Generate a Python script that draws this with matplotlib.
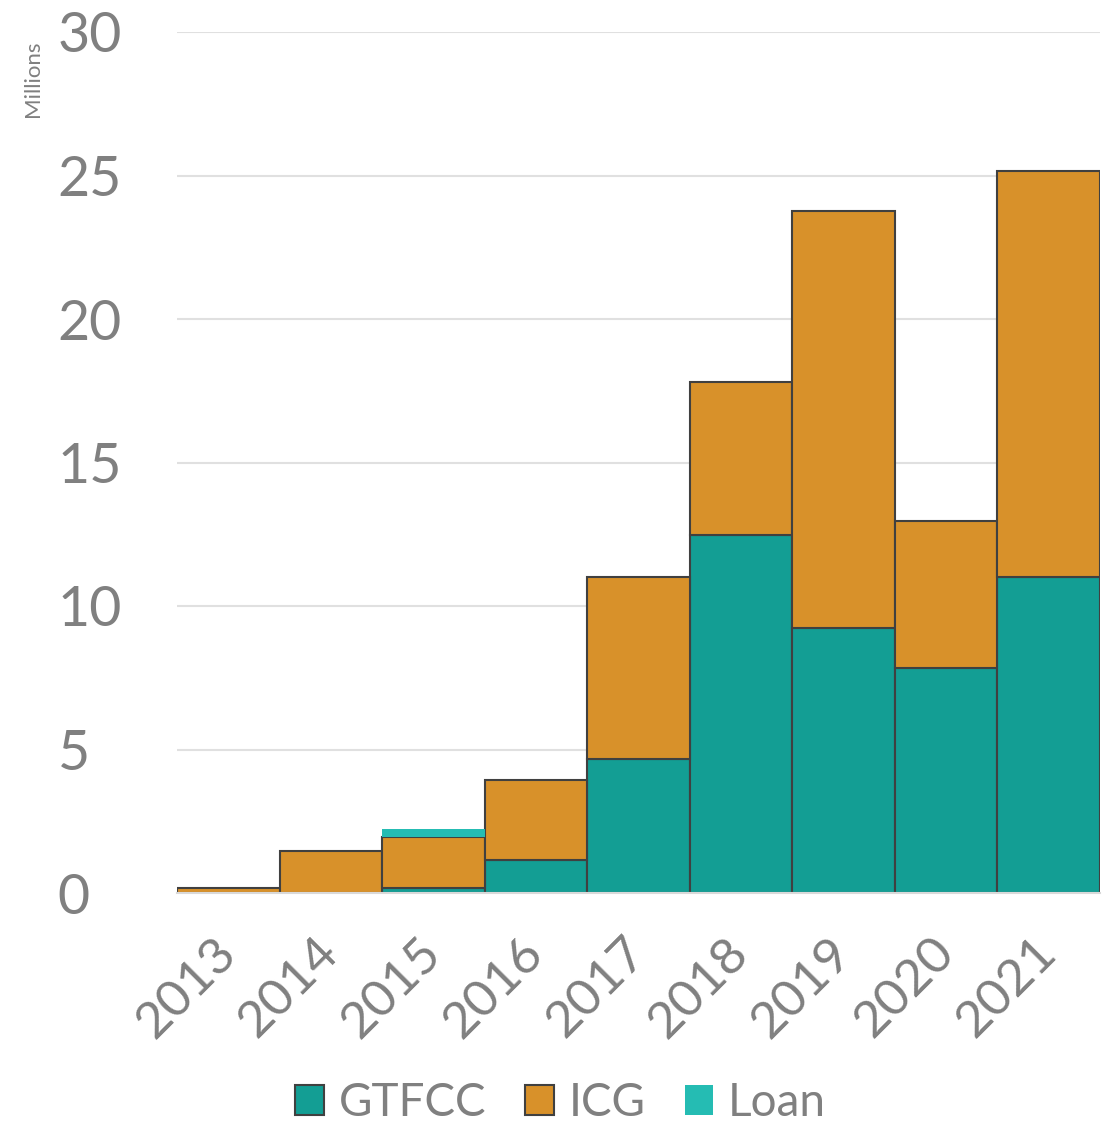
import matplotlib.pyplot as plt
import matplotlib.transforms as mtransforms
import numpy as np
from matplotlib.patches import Patch

years = ["2013", "2014", "2015", "2016", "2017", "2018", "2019", "2020", "2021"]
gtfcc = [0.0, 0.0, 0.17, 1.15, 4.67, 12.47, 9.23, 7.84, 11.01]
icg = [0.17, 1.46, 1.78, 2.79, 6.34, 5.33, 14.53, 5.12, 14.15]
loan = [0.0, 0.0, 0.28, 0.0, 0.0, 0.0, 0.0, 0.0, 0.0]

C_GTFCC = "#139E94"
C_ICG = "#D8912A"
C_LOAN = "#25BCB3"
EDGE = "#404040"
TXT = "#808080"

plt.rcParams["font.family"] = ["Lato", "DejaVu Sans"]

fig = plt.figure(figsize=(11.1, 11.24), dpi=100)
ax = fig.add_axes([177 / 1110, 1 - 893 / 1124, (1100 - 177) / 1110, (893 - 32) / 1124])

x = np.arange(len(years))
g = np.array(gtfcc)
i = np.array(icg)
ax.bar(x, g, width=1.0, color=C_GTFCC, edgecolor=EDGE, linewidth=1.5, zorder=3)
ax.bar(x, i, width=1.0, bottom=g, color=C_ICG, edgecolor=EDGE, linewidth=1.5, zorder=3)
ax.bar(x, loan, width=1.0, bottom=g + i, color=C_LOAN, linewidth=0, zorder=3)

ax.set_xlim(-0.5, len(years) - 0.5)
ax.set_ylim(0, 30)
ax.set_yticks(range(0, 31, 5))
ax.set_xticks(x)
ax.set_xticklabels(years, rotation=45, ha="right", va="top", rotation_mode="anchor")
ax.tick_params(axis="both", length=0, labelcolor=TXT)
ax.tick_params(axis="y", pad=86, labelsize=40)
ax.tick_params(axis="x", pad=26, labelsize=37)
for lab in ax.get_yticklabels():
    lab.set_horizontalalignment("left")
shift = mtransforms.ScaledTranslation(-16 / 100, 0, fig.dpi_scale_trans)
for lab in ax.get_xticklabels():
    lab.set_transform(lab.get_transform() + shift)
ax.grid(axis="y", color="#e0e0e0", linewidth=1.5, zorder=0)
for s in ["top", "right", "left"]:
    ax.spines[s].set_visible(False)
ax.spines["bottom"].set_color("#d9d9d9")
ax.spines["bottom"].set_linewidth(1.5)
ax.spines["bottom"].set_zorder(4)

fig.text(33 / 1110, 1 - 79 / 1124, "Millions", rotation=90, ha="center", va="center",
         fontsize=16, color=TXT)

handles = [
    Patch(facecolor=C_GTFCC, edgecolor=EDGE, linewidth=1.5, label="GTFCC"),
    Patch(facecolor=C_ICG, edgecolor=EDGE, linewidth=1.5, label="ICG"),
    Patch(facecolor=C_LOAN, edgecolor="none", label="Loan"),
]
fig.legend(handles=handles, loc="center", bbox_to_anchor=(0.505, 1 - 1103 / 1124), ncol=3,
           frameon=False, fontsize=33, labelcolor=TXT, handlelength=0.63, handleheight=0.63,
           handletextpad=0.32, columnspacing=0.85)

plt.savefig("out.png", dpi=100)
plt.close("all")
